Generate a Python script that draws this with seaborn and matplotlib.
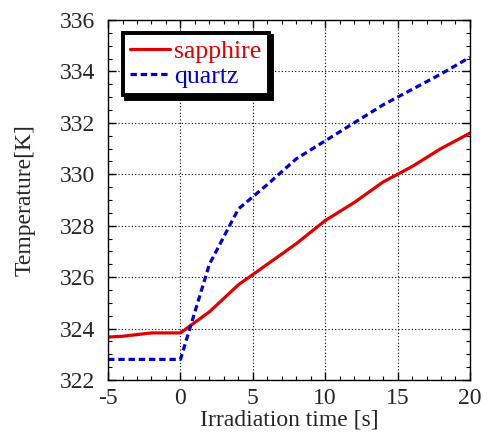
import numpy as np
import pandas as pd
import matplotlib
matplotlib.use("Agg")
import matplotlib.pyplot as plt
import seaborn as sns
from matplotlib.lines import Line2D

# Data
time_sapphire = [-5, -4, -2, 0, 2, 4, 6, 8, 10, 12, 14, 16, 18, 20]
temp_sapphire = [323.67, 323.70, 323.83, 323.83, 324.65, 325.70, 326.50, 327.30,
                 328.20, 328.90, 329.70, 330.30, 331.00, 331.60]
time_quartz = [-5, 0, 2, 4, 6, 8, 10, 12, 14, 16, 18, 20]
temp_quartz = [322.80, 322.80, 326.50, 328.65, 329.60, 330.60, 331.30, 332.00,
               332.70, 333.30, 333.90, 334.55]
series_names = ["sapphire", "quartz"]
x_ticks = [-5, 0, 5, 10, 15, 20]
y_ticks = [322, 324, 326, 328, 330, 332, 334, 336]

df = pd.concat([
    pd.DataFrame({"t": time_sapphire, "T": temp_sapphire, "material": series_names[0]}),
    pd.DataFrame({"t": time_quartz, "T": temp_quartz, "material": series_names[1]}),
], ignore_index=True)

sns.set_style("ticks")
plt.rcParams["font.family"] = ["Liberation Serif", "DejaVu Serif"]
plt.rcParams["axes.unicode_minus"] = False

fig = plt.figure(figsize=(4.89, 4.32), dpi=100)
ax = fig.add_axes([0.221, 0.1204, 0.740, 0.8333])

palette = {"sapphire": "#e00000", "quartz": "#0000d0"}
sns.lineplot(data=df, x="t", y="T", hue="material", style="material",
             palette=palette, dashes={"sapphire": "", "quartz": (2, 1.2)},
             linewidth=2.3, ax=ax, legend=False)

ax.set_xlim(-5, 20)
ax.set_ylim(322, 336)
ax.set_xticks(x_ticks)
ax.set_yticks(y_ticks)
ax.set_xticks(np.arange(-5, 20.01, 1), minor=True)
ax.set_yticks(np.arange(322, 336.01, 0.5), minor=True)
ax.tick_params(which="both", direction="in", top=True, right=True, color="black")
ax.tick_params(which="major", length=6, width=1, labelsize=17)
ax.tick_params(axis="y", which="major", pad=9)
ax.tick_params(axis="x", which="major", pad=6)
ax.tick_params(which="minor", length=3, width=0.8)
ax.grid(True, which="major", color="black", linestyle=(0, (1, 2)), linewidth=0.8)
for s in ax.spines.values():
    s.set_color("black")
    s.set_linewidth(1.0)

ax.set_xlabel("Irradiation time [s]", fontsize=17, labelpad=0)
ax.set_ylabel("Temperature[K]", fontsize=17, labelpad=17.5)

handles = [Line2D([], [], color=palette["sapphire"], linewidth=2.3),
           Line2D([], [], color=palette["quartz"], linewidth=2.3, linestyle=(0, (2, 1.2)))]
leg = ax.legend(handles, series_names, loc="upper left", bbox_to_anchor=(0.04, 0.965),
                fontsize=18.5, frameon=True, fancybox=False,
                shadow={"color": "black", "alpha": 1, "ox": 2.5, "oy": -2.5},
                labelcolor=[palette["sapphire"], palette["quartz"]],
                handlelength=1.55, handletextpad=0.15, borderpad=0.3,
                labelspacing=0.05, borderaxespad=0)
leg.get_frame().set_edgecolor("black")
leg.get_frame().set_linewidth(2.8)
leg.get_frame().set_facecolor("white")
leg.get_frame().set_alpha(1)

fig.savefig("out.png", dpi=100)
